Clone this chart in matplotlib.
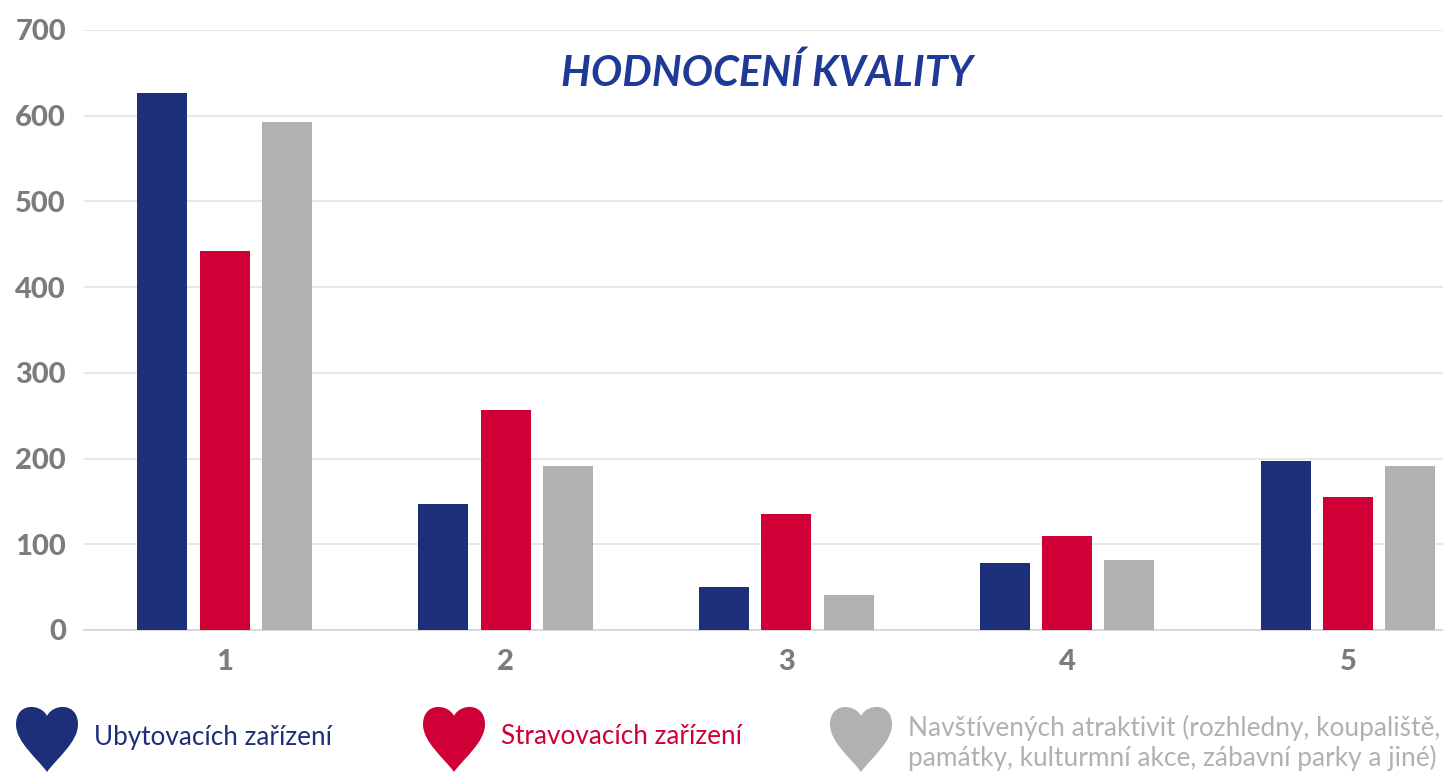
import matplotlib
matplotlib.use('Agg')
import matplotlib.pyplot as plt
import numpy as np
from matplotlib.path import Path
from matplotlib.patches import PathPatch

categories = ['1', '2', '3', '4', '5']
ubytovani = [627, 147, 50, 78, 197]
stravovani = [442, 257, 135, 110, 155]
atraktivity = [593, 191, 41, 82, 191]
yticks = [0, 100, 200, 300, 400, 500, 600, 700]
title = 'HODNOCENÍ KVALITY'
labels = ['Ubytovacích zařízení', 'Stravovacích zařízení',
          'Navštívených atraktivit (rozhledny, koupaliště,\npamátky, kulturmní akce, zábavní parky a jiné)']
colors = ['#1e2f7a', '#cf0036', '#b0b1b3']

W, H = 1443, 775
fig = plt.figure(figsize=(W/100, H/100), dpi=100)
plt.rcParams['font.family'] = ['Lato', 'DejaVu Sans']
ax = fig.add_axes([84/W, 1-630/H, (1443-84)/W, (630-30)/H])
ax.set_ylim(0, 700)
x = np.arange(5)
step = 62.3/280.8
for i, (vals, c) in enumerate(zip([ubytovani, stravovani, atraktivity], colors)):
    ax.bar(x + (i-1)*step, vals, width=50/280.8, color=c, zorder=3)
ax.set_xlim((84-224.7)/280.8, (1443-224.7)/280.8)
ax.set_yticks(yticks)
ax.set_xticks(x, categories)
ax.yaxis.grid(True, color='#e4e5e7', lw=1.3, zorder=0)
ax.set_axisbelow(True)
for s in ['top', 'right', 'left']:
    ax.spines[s].set_visible(False)
ax.spines['bottom'].set_color('#d5d6d8')
ax.spines['bottom'].set_linewidth(1.3)
ax.tick_params(length=0)
ax.tick_params(axis='y', pad=13, labelcolor='#7c7c7f', labelsize=21)
ax.tick_params(axis='x', pad=14, labelcolor='#7c7c7f', labelsize=21)
for t in ax.get_xticklabels() + ax.get_yticklabels():
    t.set_fontweight('black')

fig.text(767/W, 1-73/H, title, color='#1e3a96', fontsize=30, ha='center', va='center',
         family=['Lato', 'DejaVu Sans'], style='italic', fontweight='bold')

def heart(cx, top, w, h, color):
    sx, sy = w/2, h
    pts = [(0, 0.15), (-0.2, -0.04), (-1.0, -0.06), (-1.0, 0.28), (-1.0, 0.55), (-0.3, 0.8), (0, 1.0),
           (0.3, 0.8), (1.0, 0.55), (1.0, 0.28), (1.0, -0.06), (0.2, -0.04), (0, 0.15)]
    v = [((cx + sx*a)/W, 1-(top + sy*b)/H) for a, b in pts]
    codes = [Path.MOVETO] + [Path.CURVE4]*12
    fig.add_artist(PathPatch(Path(v, codes), fc=color, ec='none', transform=fig.transFigure))

heart(47, 706, 62, 66, colors[0])
heart(454, 706, 62, 66, colors[1])
heart(861, 706, 62, 66, colors[2])
fig.text(94/W, 1-737/H, labels[0], color=colors[0], fontsize=18.8, va='center')
fig.text(501/W, 1-737/H, labels[1], color=colors[1], fontsize=18.8, va='center')
fig.text(908/W, 1-743/H, labels[2], color=colors[2], fontsize=18.9, va='center', linespacing=1.2)
fig.savefig('out.png', dpi=100)
